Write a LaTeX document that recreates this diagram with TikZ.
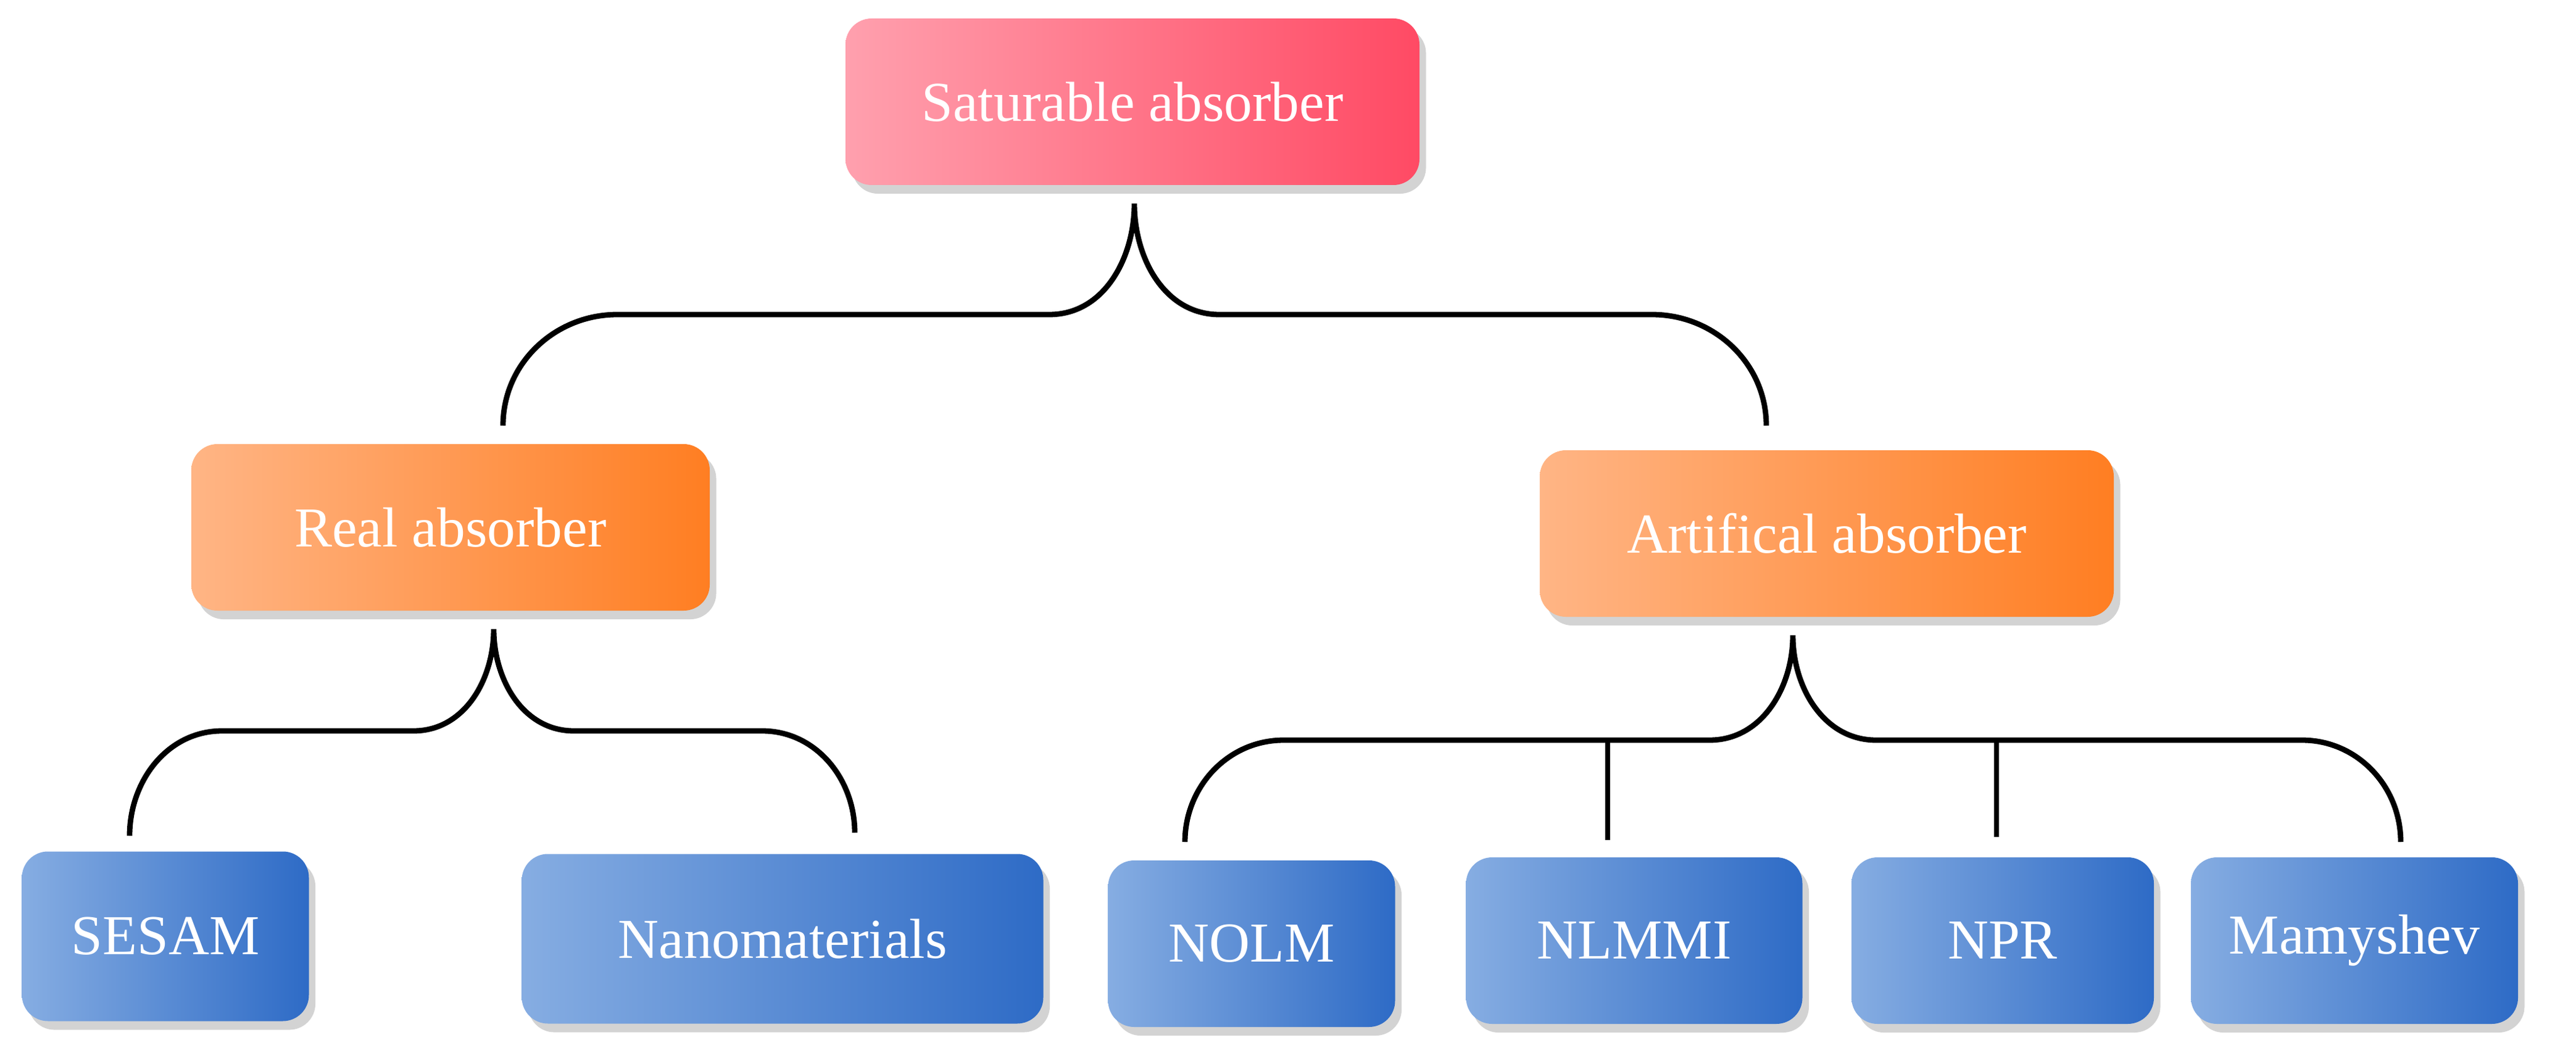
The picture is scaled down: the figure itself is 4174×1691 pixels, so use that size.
\documentclass[tikz,border=0pt]{standalone}
\usepackage{fontspec}
\setmainfont{Liberation Serif}
\usetikzlibrary{shadows}
\definecolor{pkL}{HTML}{FFA0AE}\definecolor{pkD}{HTML}{FF4A64}
\definecolor{orL}{HTML}{FFB585}\definecolor{orD}{HTML}{FF7E22}
\definecolor{blL}{HTML}{86ADE2}\definecolor{blD}{HTML}{2E6BC6}
\begin{document}
\begin{tikzpicture}[x=0.01cm,y=-0.01cm,
 box/.style={rounded corners=12pt, text=white, font=\fontsize{26}{30}\selectfont, inner sep=0pt,
   drop shadow={shadow xshift=3pt,shadow yshift=-4pt,opacity=0.35}},
 pk/.style={box,left color=pkL,right color=pkD},
 ob/.style={box,left color=orL,right color=orD},
 bb/.style={box,left color=blL,right color=blD},
 br/.style={line width=2.5pt}]
\useasboundingbox (0,0) rectangle (4174,1691);
\node[pk,minimum width=930*0.01cm,minimum height=270*0.01cm] (sat) at (1835,165) {Saturable absorber};
\node[ob,minimum width=840*0.01cm,minimum height=270*0.01cm] (real) at (730,855) {Real absorber};
\node[ob,minimum width=930*0.01cm,minimum height=270*0.01cm] (art) at (2960,865) {Artifical absorber};
\node[bb,minimum width=465*0.01cm,minimum height=275*0.01cm] (sesam) at (268,1518) {SESAM};
\node[bb,minimum width=845*0.01cm,minimum height=275*0.01cm] (nano) at (1268,1522) {Nanomaterials};
\node[bb,minimum width=465*0.01cm,minimum height=270*0.01cm] (nolm) at (2028,1530) {NOLM};
\node[bb,minimum width=545*0.01cm,minimum height=270*0.01cm] (nlmmi) at (2648,1525) {NLMMI};
\node[bb,minimum width=490*0.01cm,minimum height=270*0.01cm] (npr) at (3245,1525) {NPR};
\node[bb,minimum width=530*0.01cm,minimum height=270*0.01cm] (mam) at (3815,1525) {Mamyshev};
\coordinate (b1c) at (1838,330);\coordinate (b1l) at (815,690);\coordinate (b1r) at (2862,690);
\draw[br] (b1l) to[out=90,in=180] (1000,510) -- (1700,510) to[out=0,in=-90] (b1c)
 to[out=-90,in=180] (1976,510) -- (2677,510) to[out=0,in=90] (b1r);
\coordinate (b2c) at (800,1020);\coordinate (b2l) at (210,1355);\coordinate (b2r) at (1385,1350);
\draw[br] (b2l) to[out=90,in=180] (360,1185) -- (670,1185) to[out=0,in=-90] (b2c)
 to[out=-90,in=180] (930,1185) -- (1235,1185) to[out=0,in=90] (b2r);
\coordinate (b3c) at (2905,1030);\coordinate (b3l) at (1920,1365);\coordinate (b3r) at (3890,1365);
\draw[br] (b3l) to[out=90,in=180] (2080,1200) -- (2770,1200) to[out=0,in=-90] (b3c)
 to[out=-90,in=180] (3040,1200) -- (3730,1200) to[out=0,in=90] (b3r);
\coordinate (t1) at (2605,1200);\coordinate (t1e) at (2605,1362);
\coordinate (t2) at (3235,1200);\coordinate (t2e) at (3235,1357);
\draw[br] (t1) -- (t1e); \draw[br] (t2) -- (t2e);
\end{tikzpicture}
\end{document}
